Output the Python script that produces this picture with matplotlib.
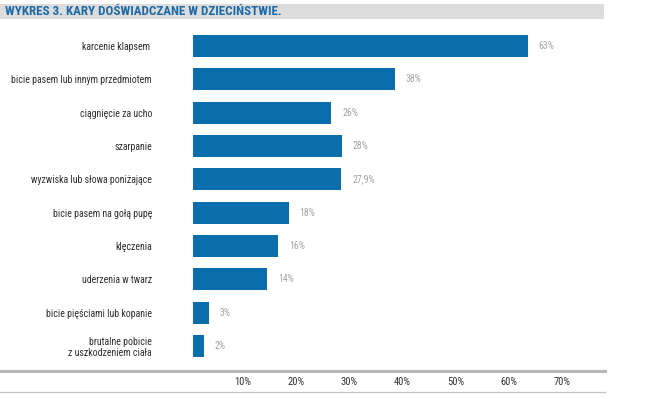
import matplotlib
matplotlib.use("Agg")
import matplotlib.pyplot as plt
from matplotlib.lines import Line2D
from matplotlib.patches import Rectangle
from matplotlib.transforms import ScaledTranslation

plt.rcParams['font.family'] = ['Roboto Condensed', 'DejaVu Sans']

# dane
categories = [
    "karcenie klapsem ",
    "bicie pasem lub innym przedmiotem",
    "ciągnięcie za ucho",
    "szarpanie",
    "wyzwiska lub słowa poniżające",
    "bicie pasem na gołą pupę",
    "klęczenia",
    "uderzenia w twarz",
    "bicie pięściami lub kopanie",
    "brutalne pobicie\nz uszkodzeniem ciała",
]
values = [63, 38, 26, 28, 27.9, 18, 16, 14, 3, 2]
value_labels = ["63%", "38%", "26%", "28%", "27,9%", "18%", "16%", "14%", "3%", "2%"]
ticks = [10, 20, 30, 40, 50, 60, 70]
tick_labels = ["10%", "20%", "30%", "40%", "50%", "60%", "70%"]

W, H = 669, 399
fig = plt.figure(figsize=(W / 100, H / 100), dpi=100)

# pasek tytułu
fig.add_artist(Rectangle((0, 1 - 19 / H), 604 / W, 15 / H, transform=fig.transFigure,
                         facecolor="#dcdcdc", edgecolor="none"))
fig.text(5 / W, 1 - 11.5 / H, "WYKRES 3. KARY DOŚWIADCZANE W DZIECIŃSTWIE.",
         color="#1d6aa8", fontsize=9.4, fontweight="bold", va="center", ha="left")

# osie z wykresem
px_per_pct = 5.31
xmax = 80
left = 193 / W
width = xmax * px_per_pct / W
top = 29.3
bottom = 362.7
ax = fig.add_axes([left, 1 - bottom / H, width, (bottom - top) / H])

y = list(range(len(categories)))
ax.barh(y, values, height=0.66, color="#0a6dac")
ax.set_ylim(len(categories) - 0.5, -0.5)
ax.set_xlim(0, xmax)

for yi, v, lab in zip(y, values, value_labels):
    ax.annotate(lab, (v, yi), xytext=(11, 0), textcoords="offset pixels",
                va="center", ha="left", fontsize=7, color="#a3a3a3")

ax.set_yticks(y)
ax.set_yticklabels(categories, fontsize=7.1, color="#2e2e2e", linespacing=1.1)
ax.tick_params(axis="y", length=0, pad=29.5)

ax.set_xticks(ticks)
ax.set_xticklabels(tick_labels, fontsize=7.6, color="#333333")
ax.tick_params(axis="x", length=0, pad=10)
# etykiety osi lekko w lewo, jak w oryginale
shift = ScaledTranslation(-3 / 100, 0, fig.dpi_scale_trans)
for lab in ax.get_xticklabels():
    lab.set_transform(lab.get_transform() + shift)

for s in ax.spines.values():
    s.set_visible(False)

# linie na dole
fig.add_artist(Line2D([0, 605 / W], [1 - 371 / H] * 2, transform=fig.transFigure,
                      color="#b8b8b8", linewidth=2.2))
fig.add_artist(Line2D([0, 605 / W], [1 - 391.5 / H] * 2, transform=fig.transFigure,
                      color="#c4c4c4", linewidth=0.9))

fig.savefig("out.png", dpi=100, facecolor="white")
